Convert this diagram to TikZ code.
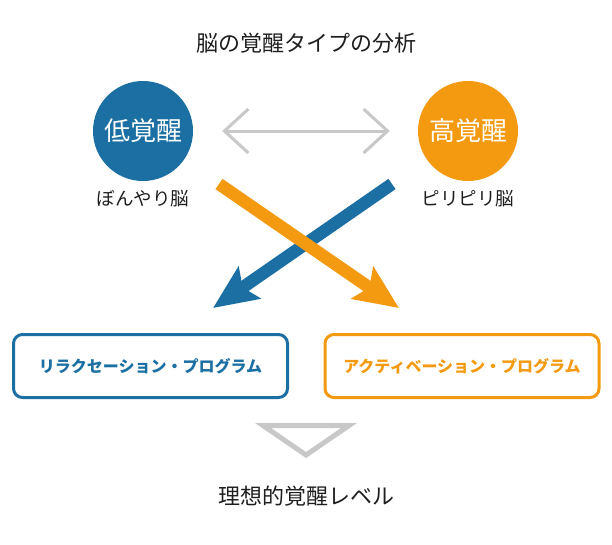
\documentclass[tikz,border=0pt]{standalone}
\usepackage{fontspec}
\setmainfont{Noto Sans CJK JP}
\usepackage{xcolor}
\usetikzlibrary{arrows.meta,positioning}
\definecolor{lowblue}{HTML}{1B6FA2}
\definecolor{highorange}{HTML}{F39A10}
\definecolor{arrowgray}{HTML}{C8C8C8}
\definecolor{textblack}{HTML}{1E1E1E}

\begin{document}
\begin{tikzpicture}[x=1pt, y=-1pt, every node/.style={text=textblack},
    circ/.style={circle, minimum size=100pt, inner sep=0pt, text=white, font=\fontsize{26}{30}\selectfont},
    sublabel/.style={font=\fontsize{18.5}{22}\selectfont},
    prog/.style={draw, line width=3pt, rounded corners=9pt, minimum width=274pt, minimum height=63pt, font=\bfseries\fontsize{16}{20}\selectfont},
    bigarrow/.style={line width=12.5pt, -{Stealth[length=44pt, width=38pt, inset=8pt]}}]
    \useasboundingbox (0,0) rectangle (612,544);

    % Title
    \node[font=\fontsize{22}{26}\selectfont] (title) at (306,43) {脳の覚醒タイプの分析};

    % Arousal circles
    \node[circ, fill=lowblue] (low) at (143,131) {低覚醒};
    \node[sublabel, below=6pt of low] (lowsub) {ぼんやり脳};
    \node[circ, fill=highorange] (high) at (468,131) {高覚醒};
    \node[sublabel, below=6pt of high] (highsub) {ピリピリ脳};

    % Gray double arrow
    \draw[arrowgray, line width=3pt, {Straight Barb[length=24pt, width=44pt]}-{Straight Barb[length=24pt, width=44pt]}, shorten <=29pt, shorten >=28pt] (low) -- (high);

    % Crossing arrows
    \coordinate (bstart) at (392,184);
    \coordinate (bend) at (213,308);
    \coordinate (ostart) at (219,184);
    \coordinate (oend) at (399,308);
    \draw[bigarrow, lowblue] (bstart) -- (bend);
    \draw[bigarrow, highorange] (ostart) -- (oend);

    % Program boxes
    \node[prog, lowblue, text=lowblue] (relax) at (150.5,366) {リラクセーション・プログラム};
    \node[prog, highorange, text=highorange] (activ) at (462,366) {アクティベーション・プログラム};

    % Down triangle
    \draw[arrowgray, line width=5pt] (263,425.5) -- (349,425.5) -- (306,455) -- cycle;

    % Result
    \node[font=\fontsize{22}{26}\selectfont] (ideal) at (306,496) {理想的覚醒レベル};
\end{tikzpicture}
\end{document}
